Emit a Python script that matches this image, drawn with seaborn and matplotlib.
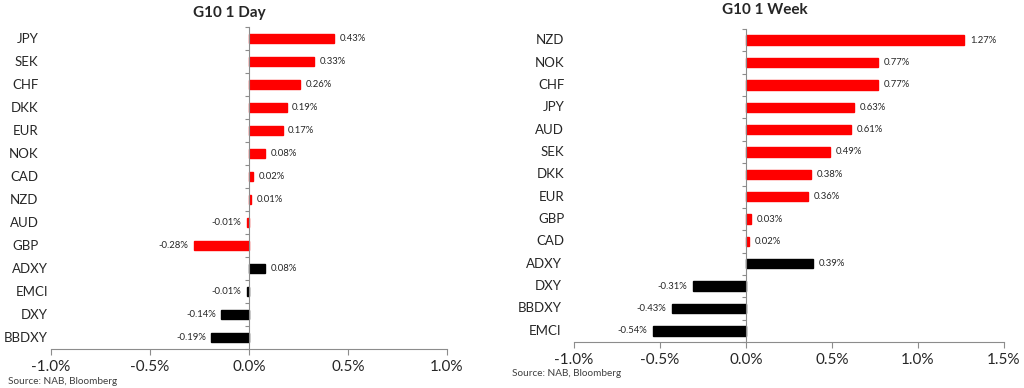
import matplotlib
matplotlib.use("Agg")
import matplotlib.pyplot as plt
import matplotlib.transforms as mtransforms
import seaborn as sns

# G10 1 Day
day_ccy = ["JPY", "SEK", "CHF", "DKK", "EUR", "NOK", "CAD", "NZD", "AUD", "GBP",
           "ADXY", "EMCI", "DXY", "BBDXY"]
day_chg = [0.43, 0.33, 0.26, 0.19, 0.17, 0.08, 0.02, 0.01, -0.01, -0.28,
           0.08, -0.01, -0.14, -0.19]
day_group = ["g10"] * 10 + ["index"] * 4

# G10 1 Week
week_ccy = ["NZD", "NOK", "CHF", "JPY", "AUD", "SEK", "DKK", "EUR", "GBP", "CAD",
            "ADXY", "DXY", "BBDXY", "EMCI"]
week_chg = [1.27, 0.77, 0.77, 0.63, 0.61, 0.49, 0.38, 0.36, 0.03, 0.02,
            0.39, -0.31, -0.43, -0.54]
week_group = ["g10"] * 10 + ["index"] * 4

colors = {"g10": "#FF0000", "index": "#000000"}

sns.set_style("white")
plt.rcParams["font.family"] = ["Lato", "DejaVu Sans"]

fig = plt.figure(figsize=(10.24, 3.88), dpi=100)
ax1 = fig.add_axes([51 / 1024, 1 - 349 / 388, 396 / 1024, 322 / 388])
ax2 = fig.add_axes([574 / 1024, 1 - 342 / 388, 430 / 1024, 313 / 388])

spine_col = "#8C8C8C"


def draw_panel(ax, cats, vals, groups, xlim, xticks, label_pads):
    sns.barplot(x=vals, y=cats, hue=groups, palette=colors, orient="h",
                width=0.42, legend=False, ax=ax, saturation=1)
    # thin outline in the fill colour so tiny bars stay visible
    for patch in ax.patches:
        patch.set_edgecolor(patch.get_facecolor())
        patch.set_linewidth(1.0)
    ax.set_xlim(*xlim)
    ax.set_ylim(len(cats) - 0.5, -0.5)
    ax.set_xticks(xticks)
    ax.set_xticklabels([f"{t:.1f}%" for t in xticks])
    ax.tick_params(axis="x", length=4, width=0.8, color=spine_col,
                   labelsize=11, labelcolor="#262626", pad=4, bottom=True)
    ax.set_xlabel("")
    ax.set_ylabel("")
    for s in ["top", "right"]:
        ax.spines[s].set_visible(False)
    ax.spines["bottom"].set_color(spine_col)
    ax.spines["bottom"].set_linewidth(0.8)
    # value axis at zero, ticks between categories
    ax.spines["left"].set_position(("data", 0))
    ax.spines["left"].set_color(spine_col)
    ax.spines["left"].set_linewidth(0.8)
    ax.set_yticks([i - 0.5 for i in range(len(cats) + 1)])
    ax.set_yticklabels([])
    ax.tick_params(axis="y", length=3, width=0.8, color=spine_col, left=True)
    trans = mtransforms.blended_transform_factory(ax.transAxes, ax.transData)
    for i, (c, v, g) in enumerate(zip(cats, vals, groups)):
        ax.annotate(c, xy=(0, i), xycoords=trans, xytext=(-label_pads[g], 0),
                    textcoords="offset points", ha="right", va="center",
                    fontsize=9.5, color="#262626")
        ax.annotate(f"{v:.2f}%", xy=(v, i), xytext=(4 if v >= 0 else -4, 0),
                    textcoords="offset points",
                    ha="left" if v >= 0 else "right", va="center",
                    fontsize=6.8, color="#262626")


draw_panel(ax1, day_ccy, day_chg, day_group, (-1.0, 1.0),
           [-1.0, -0.5, 0.0, 0.5, 1.0], {"g10": 9, "index": 2})
draw_panel(ax2, week_ccy, week_chg, week_group, (-1.0, 1.5),
           [-1.0, -0.5, 0.0, 0.5, 1.0, 1.5], {"g10": 7, "index": 9})

fig.text(229 / 1024, 1 - 13 / 388, "G10 1 Day", ha="center", va="center",
         fontsize=11, fontweight="bold", color="#262626")
fig.text(765 / 1024, 1 - 10 / 388, "G10 1 Week", ha="center", va="center",
         fontsize=11, fontweight="bold", color="#262626")
fig.text(8 / 1024, 1 - 382 / 388, "Source: NAB, Bloomberg", ha="left",
         va="center", fontsize=7.2, color="#404040")
fig.text(512 / 1024, 1 - 374 / 388, "Source: NAB, Bloomberg", ha="left",
         va="center", fontsize=7.2, color="#404040")

fig.savefig("out.png", dpi=100)
